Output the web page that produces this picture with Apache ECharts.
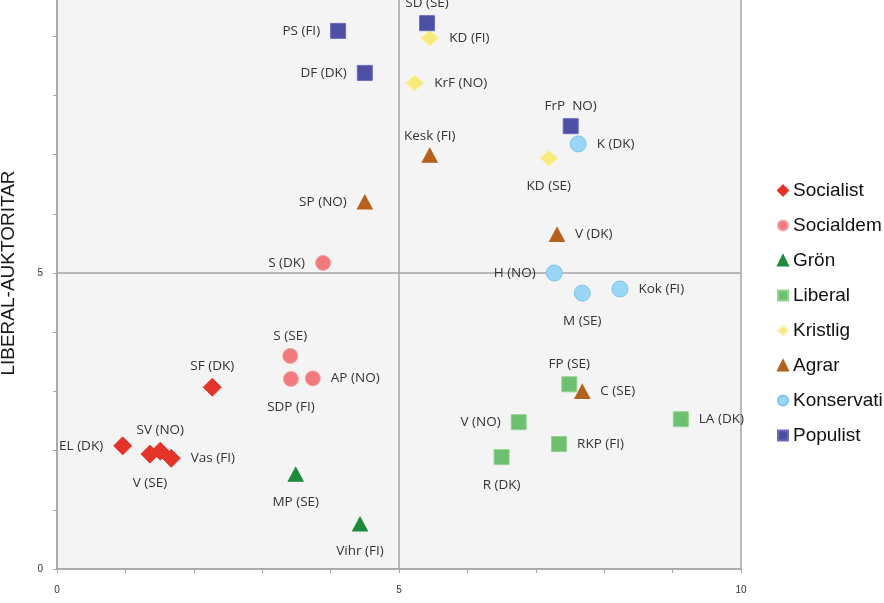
<!DOCTYPE html>
<html lang="sv">
<head>
    <meta charset="UTF-8">
    <title>Partier</title>
    <script src="https://cdn.jsdelivr.net/npm/echarts@6/dist/echarts.min.js"></script>
    <style>
        html, body { margin: 0; padding: 0; background: #fff; }
        #main { width: 884px; height: 603px; }
    </style>
</head>
<body>
<div id="main"></div>
<script>
    // punkter: [x, y, namn]
    var socialist = [[2.27, 3.07, 'SF (DK)'], [0.96, 2.08, 'EL (DK)'], [1.51, 1.99, 'SV (NO)'], [1.36, 1.94, 'V (SE)'], [1.67, 1.87, 'Vas (FI)']];
    var socialdem = [[3.89, 5.17, 'S (DK)'], [3.41, 3.60, 'S (SE)'], [3.42, 3.21, 'SDP (FI)'], [3.74, 3.22, 'AP (NO)']];
    var gron = [[3.49, 1.60, 'MP (SE)'], [4.43, 0.76, 'Vihr (FI)']];
    var liberal = [[7.49, 3.12, 'FP (SE)'], [6.75, 2.48, 'V (NO)'], [9.12, 2.53, 'LA (DK)'], [7.34, 2.11, 'RKP (FI)'], [6.50, 1.89, 'R (DK)']];
    var kristlig = [[5.45, 8.97, 'KD (FI)'], [5.23, 8.21, 'KrF (NO)'], [7.19, 6.94, 'KD (SE)']];
    var agrar = [[5.45, 6.99, 'Kesk (FI)'], [4.50, 6.20, 'SP (NO)'], [7.31, 5.65, 'V (DK)'], [7.68, 3.00, 'C (SE)']];
    var konservativ = [[7.62, 7.18, 'K (DK)'], [7.27, 5.00, 'H (NO)'], [7.68, 4.66, 'M (SE)'], [8.23, 4.73, 'Kok (FI)']];
    var populist = [[5.41, 9.22, 'SD (SE)'], [4.11, 9.09, 'PS (FI)'], [4.50, 8.38, 'DF (DK)'], [7.51, 7.48, 'FrP  NO)']];

    var legendNames = ['Socialist', 'Socialdem', 'Grön', 'Liberal', 'Kristlig', 'Agrar', 'Konservati', 'Populist'];
    var axisTicks = [0, 5, 10];
    var yName = 'LIBERAL-AUKTORITAR';

    // var etiketten hamnar
    var labelSide = {
        'SF (DK)': 'top', 'EL (DK)': 'left', 'SV (NO)': 'top', 'V (SE)': 'bottom', 'Vas (FI)': 'right',
        'S (DK)': 'left', 'S (SE)': 'top', 'SDP (FI)': 'bottom', 'AP (NO)': 'right',
        'MP (SE)': 'bottom', 'Vihr (FI)': 'bottom',
        'FP (SE)': 'top', 'V (NO)': 'left', 'LA (DK)': 'right', 'RKP (FI)': 'right', 'R (DK)': 'bottom',
        'KD (FI)': 'right', 'KrF (NO)': 'right', 'KD (SE)': 'bottom',
        'Kesk (FI)': 'top', 'SP (NO)': 'left', 'V (DK)': 'right', 'C (SE)': 'right',
        'K (DK)': 'right', 'H (NO)': 'left', 'M (SE)': 'bottom', 'Kok (FI)': 'right',
        'SD (SE)': 'top', 'PS (FI)': 'left', 'DF (DK)': 'left', 'FrP  NO)': 'top'
    };
    var sideGap = { left: 10, right: 10, top: 5, bottom: 13 };

    function toItems(points) {
        return points.map(function (p) {
            var side = labelSide[p[2]] || 'right';
            return {
                name: p[2],
                value: [p[0], p[1]],
                label: { position: side, distance: sideGap[side] }
            };
        });
    }

    function makeSeries(name, points, symbol, size, color, border) {
        return {
            name: name,
            type: 'scatter',
            symbol: symbol,
            symbolSize: size,
            itemStyle: { color: color, borderColor: border, borderWidth: 1, opacity: 1 },
            label: {
                show: true,
                formatter: '{b}',
                color: '#333',
                fontFamily: 'Open Sans',
                fontSize: 13.5
            },
            emphasis: { disabled: true },
            data: toItems(points)
        };
    }

    var series = [
        makeSeries(legendNames[0], socialist, 'diamond', 18, '#e5332a', '#e5332a'),
        makeSeries(legendNames[1], socialdem, 'circle', 15, '#f07a7e', '#f5a3a3'),
        makeSeries(legendNames[2], gron, 'triangle', [15, 14], '#1f8a3c', '#1f8a3c'),
        makeSeries(legendNames[3], liberal, 'rect', 15, '#6cc070', '#93d293'),
        makeSeries(legendNames[4], kristlig, 'diamond', [18, 16], '#f7ea7a', '#faf2b8'),
        makeSeries(legendNames[5], agrar, 'triangle', [15, 14], '#b5611e', '#b5611e'),
        makeSeries(legendNames[6], konservativ, 'circle', 16, '#9ad6f6', '#7cc4ee'),
        makeSeries(legendNames[7], populist, 'rect', 15, '#4c4fa3', '#6a6cc0')
    ];

    var axisGray = '#a6a6a6';

    function axisBase() {
        return {
            type: 'value',
            min: axisTicks[0],
            max: axisTicks[axisTicks.length - 1],
            interval: axisTicks[1] - axisTicks[0],
            axisLine: { show: true, lineStyle: { color: axisGray, width: 1.5 } },
            axisTick: { show: true, length: 4, lineStyle: { color: axisGray } },
            minorTick: { show: true, splitNumber: 5, length: 4, lineStyle: { color: axisGray } },
            splitLine: { show: true, lineStyle: { color: axisGray, width: 1.5 } },
            axisLabel: { color: '#333', fontSize: 10, fontFamily: 'Liberation Sans' }
        };
    }

    var xAxis = axisBase();
    xAxis.axisLabel.margin = 16;
    var yAxis = axisBase();
    yAxis.axisLabel.margin = 14;
    yAxis.name = yName;
    yAxis.nameLocation = 'middle';
    yAxis.nameGap = 39;
    yAxis.nameTextStyle = { color: '#1a1a1a', fontSize: 19, fontFamily: 'Liberation Sans' };

    var option = {
        animation: false,
        backgroundColor: '#ffffff',
        grid: {
            left: 57, right: 143, top: -23, bottom: 34,
            outerBoundsMode: 'none',
            containLabel: false,
            show: true, backgroundColor: '#f4f4f4', borderWidth: 0
        },
        legend: {
            data: legendNames,
            orient: 'vertical',
            left: 772,
            top: 176,
            itemWidth: 10,
            itemHeight: 10,
            itemGap: 16,
            textStyle: { color: '#111', fontSize: 19, lineHeight: 19, fontFamily: 'Liberation Sans' }
        },
        xAxis: xAxis,
        yAxis: yAxis,
        series: series
    };

    var myChart = echarts.init(document.getElementById('main'));
    myChart.setOption(option);
</script>
</body>
</html>
